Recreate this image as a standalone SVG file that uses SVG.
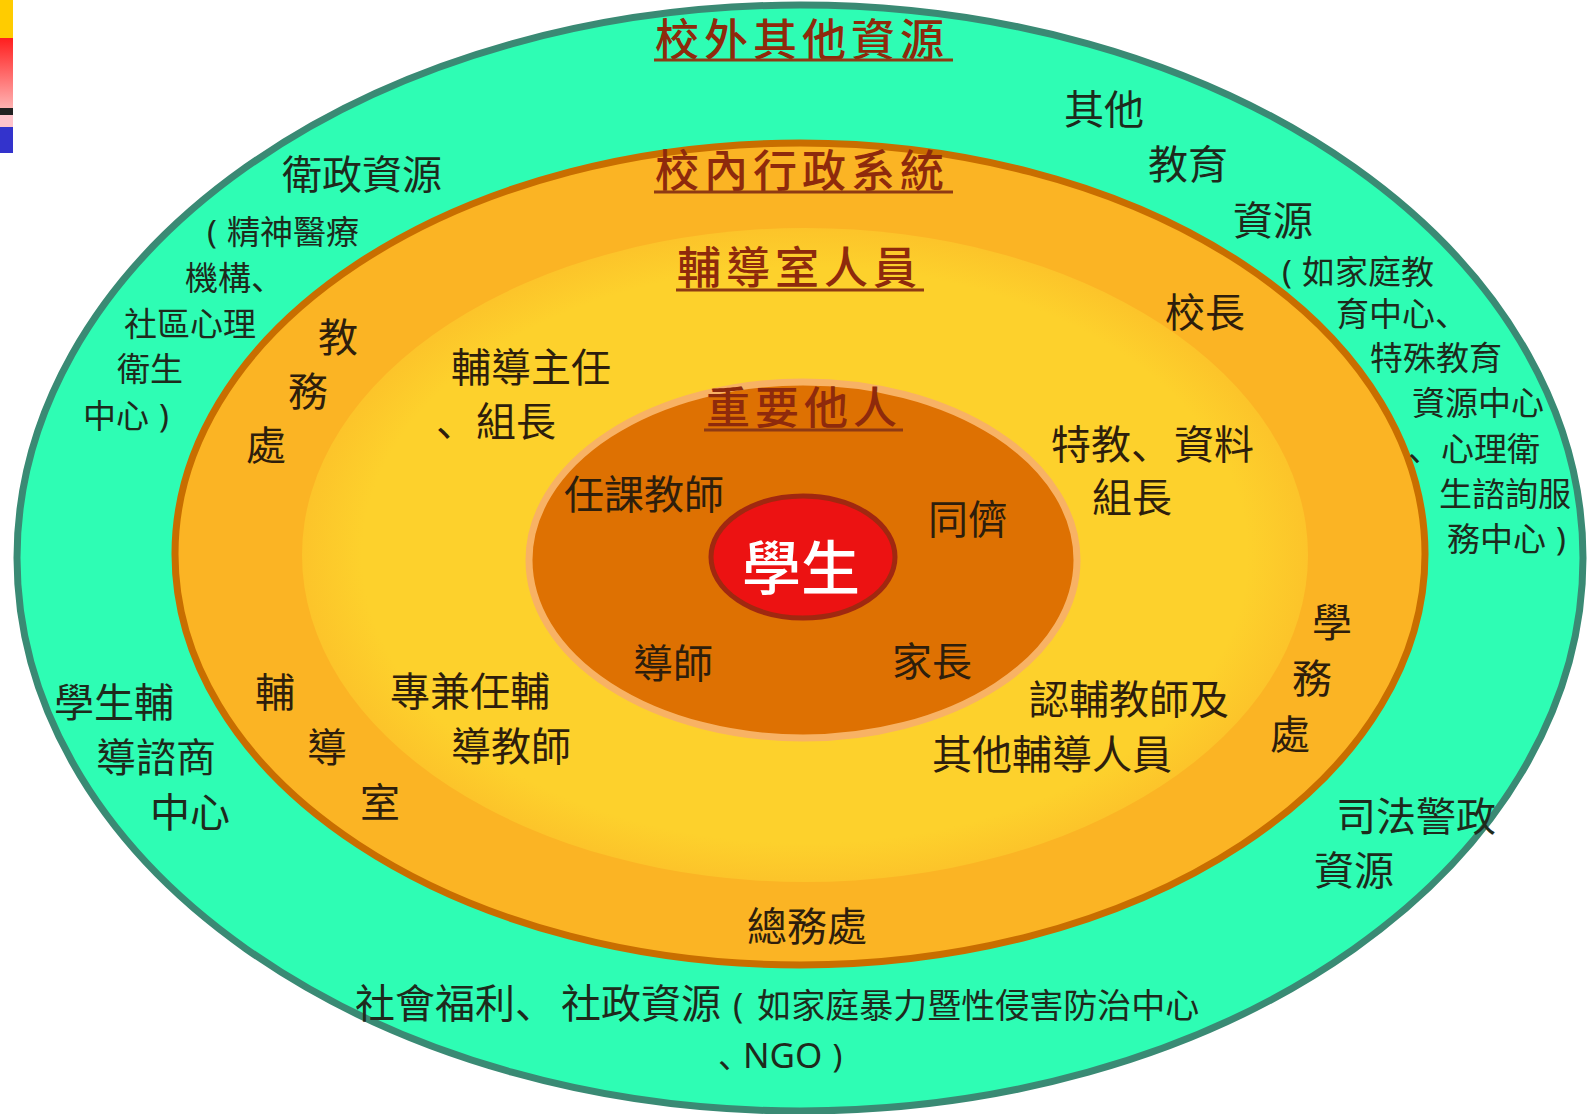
<svg xmlns="http://www.w3.org/2000/svg" width="1589" height="1114" viewBox="0 0 1589 1114">
  <defs>
    <linearGradient id="redbar" x1="0" y1="0" x2="0" y2="1">
      <stop offset="0" stop-color="#ff1e1e"/>
      <stop offset="1" stop-color="#ffb2b2"/>
    </linearGradient>
    <radialGradient id="yel" cx="0.5" cy="0.5" r="0.5">
      <stop offset="0.88" stop-color="#fdd12c"/>
      <stop offset="1" stop-color="#fcc42a"/>
    </radialGradient>
    <style>
      .t { font-family: "Noto Sans CJK TC", "Noto Sans CJK JP", sans-serif; font-size: 40px; fill: #1e2a1c; }
      .s { font-size: 33px; }
      .in { fill: #2e1e0c; }
      .p { font-family: "Noto Sans CJK JP", "Noto Sans CJK TC", sans-serif; }
      .b { font-family: "Noto Sans", sans-serif; }
      .title { font-family: "Noto Sans CJK TC", sans-serif; font-size: 44px; font-weight: 500; fill: #8e2a0c; letter-spacing: 5px; }
      .ul { stroke: #8e3a14; stroke-width: 3; }
    </style>
  </defs>

  <rect width="1589" height="1114" fill="#ffffff"/>

  <!-- color bars -->
  <g id="bars">
    <rect x="0" y="0" width="13" height="38" fill="#ffcc00"/>
    <rect x="0" y="38" width="13" height="70" fill="url(#redbar)"/>
    <rect x="0" y="108" width="13" height="7" fill="#222222"/>
    <rect x="0" y="115" width="13" height="12" fill="#ffc4cc"/>
    <rect x="0" y="127" width="13" height="26" fill="#3333cc"/>
  </g>

  <g id="outer">
    <ellipse cx="800" cy="558" rx="783" ry="553" fill="#2efdb4" stroke="#3a8a74" stroke-width="7"/>
  </g>
  <g id="school">
    <ellipse cx="800" cy="554" rx="625" ry="411" fill="#fbb424" stroke="#c86e00" stroke-width="7"/>
  </g>
  <g id="counsel">
    <ellipse cx="805" cy="555" rx="503" ry="327" fill="url(#yel)"/>
  </g>
  <g id="others">
    <ellipse cx="803" cy="560" rx="274" ry="178" fill="#de7102" stroke="#f8b264" stroke-width="7"/>
  </g>
  <g id="student">
    <ellipse cx="803" cy="557" rx="92" ry="61" fill="#ec1212" stroke="#a02810" stroke-width="5"/>
    <text x="742" y="590" font-family="Noto Sans CJK TC, sans-serif" font-size="59" font-weight="500" fill="#ffffff">學生</text>
  </g>

  <!-- titles -->
  <g id="titles">
    <text class="title" x="655" y="56">校外其他資源</text>
    <line class="ul" x1="654" y1="60" x2="953" y2="60"/>
    <text class="title" x="655" y="187">校內行政系統</text>
    <line class="ul" x1="654" y1="192" x2="953" y2="192"/>
    <text class="title" x="677" y="284">輔導室人員</text>
    <line class="ul" x1="676" y1="290" x2="924" y2="290"/>
    <text class="title" x="706" y="424">重要他人</text>
    <line class="ul" x1="704" y1="430" x2="903" y2="430"/>
  </g>

  <!-- outer ring texts -->
  <g id="outer-texts" class="t">
    <text x="1064" y="124">其他</text>
    <text x="1148" y="179">教育</text>
    <text x="1233" y="235">資源</text>
    <text class="s" x="1282" y="284"><tspan class="b">(</tspan><tspan dx="10">如家庭教</tspan></text>
    <text class="s" x="1336" y="326">育中心<tspan class="p">、</tspan></text>
    <text class="s" x="1370" y="370">特殊教育</text>
    <text class="s" x="1412" y="415">資源中心</text>
    <text class="s" x="1408" y="461"><tspan class="p">、</tspan>心理衛</text>
    <text class="s" x="1439" y="506">生諮詢服</text>
    <text class="s" x="1447" y="551">務中心<tspan class="b" dx="10">)</tspan></text>

    <text x="282" y="189">衛政資源</text>
    <text class="s" x="207" y="244"><tspan class="b">(</tspan><tspan dx="10">精神醫療</tspan></text>
    <text class="s" x="185" y="290">機構<tspan class="p">、</tspan></text>
    <text class="s" x="124" y="336">社區心理</text>
    <text class="s" x="117" y="381">衛生</text>
    <text class="s" x="83" y="428">中心<tspan class="b" dx="10">)</tspan></text>

    <text x="54" y="717">學生輔</text>
    <text x="96" y="772">導諮商</text>
    <text x="150" y="827">中心</text>

    <text x="1336" y="831">司法警政</text>
    <text x="1314" y="885">資源</text>

    <text x="355" y="1018">社會福利<tspan class="p">、</tspan><tspan dx="6">社政資源</tspan><tspan class="b" font-size="34" dx="12">(</tspan><tspan font-size="34" dx="14">如家庭暴力暨性侵害防治中心</tspan></text>
    <text class="s" x="718" y="1068"><tspan class="p">、</tspan><tspan class="b" dx="-8" font-size="35">NGO</tspan><tspan class="b" dx="10">)</tspan></text>
  </g>

  <!-- school admin ring texts -->
  <g id="school-texts" class="t in">
    <text x="318" y="352">教</text>
    <text x="288" y="406">務</text>
    <text x="246" y="460">處</text>
    <text x="1165" y="327">校長</text>
    <text x="1312" y="637">學</text>
    <text x="1292" y="693">務</text>
    <text x="1270" y="749">處</text>
    <text x="255" y="707">輔</text>
    <text x="307" y="762">導</text>
    <text x="360" y="817">室</text>
    <text x="747" y="941">總務處</text>
  </g>

  <!-- counseling staff texts -->
  <g id="counsel-texts" class="t in">
    <text x="451" y="382">輔導主任</text>
    <text x="436" y="436"><tspan class="p">、</tspan>組長</text>
    <text x="1051" y="459">特教<tspan class="p">、</tspan><tspan dx="3">資料</tspan></text>
    <text x="1092" y="512">組長</text>
    <text x="390" y="706">專兼任輔</text>
    <text x="451" y="761">導教師</text>
    <text x="1029" y="714">認輔教師及</text>
    <text x="932" y="769">其他輔導人員</text>
  </g>

  <!-- significant others texts -->
  <g id="others-texts" class="t in">
    <text x="564" y="509">任課教師</text>
    <text x="928" y="534">同儕</text>
    <text x="633" y="678">導師</text>
    <text x="892" y="676">家長</text>
  </g>
</svg>
